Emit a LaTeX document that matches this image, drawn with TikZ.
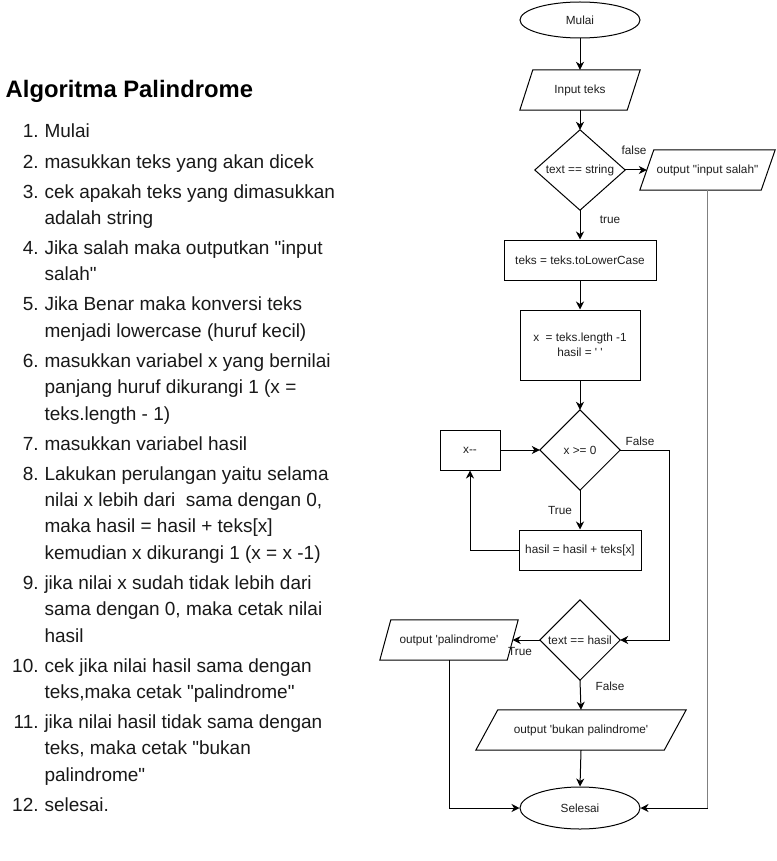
\documentclass[tikz,border=0pt]{standalone}
\usepackage{fontspec}
\setmainfont{Liberation Sans}[Ligatures=TeXOff]
\usetikzlibrary{shapes.geometric,arrows.meta}
\begin{document}
\begin{tikzpicture}[x=1pt,y=-1pt,
  fc/.style={font=\fontsize{11.8}{14.5}\selectfont, text=black!88},
  shp/.style={draw=black, line width=1pt, line join=miter},
  term/.style={ellipse, shp, minimum width=120, inner sep=0, fc},
  proc/.style={rectangle, shp, inner sep=0, fc},
  hold/.style={rectangle, inner sep=0, fc},
  lbl/.style={inner sep=0, fc},
  arr/.style={-{Stealth[length=8pt,width=8pt,inset=2.5pt]}, line width=1pt},
  grayln/.style={draw=black!50, line width=1.4pt},
  lst/.style={font=\fontsize{19}{22}\selectfont, text=black!90, inner sep=0, anchor=base west},
  num/.style={font=\fontsize{19}{22}\selectfont, text=black!90, inner sep=0, anchor=base east},
  ttl/.style={font=\fontsize{23.8}{28}\selectfont\bfseries, text=black, inner sep=0, anchor=base west}
]
\useasboundingbox (0,0) rectangle (776,861);
\fill[white] (0,0) rectangle (776,861);

% ---------- text list ----------
\node[ttl] (title) at (5.5,98) {Algoritma Palindrome};

\node[num] (n1) at (38.8,138) {1.};
\node[lst] (t1) at (44.3,138) {Mulai};
\node[num] (n2) at (38.8,168) {2.};
\node[lst] (t2) at (44.3,168) {masukkan teks yang akan dicek};
\node[num] (n3) at (38.8,198) {3.};
\node[lst] (t3a) at (44.3,198) {cek apakah teks yang dimasukkan};
\node[lst] (t3b) at (44.3,224.4) {adalah string};
\node[num] (n4) at (38.8,254.4) {4.};
\node[lst] (t4a) at (44.3,254.4) {Jika salah maka outputkan "input};
\node[lst] (t4b) at (44.3,280.8) {salah"};
\node[num] (n5) at (38.8,310.8) {5.};
\node[lst] (t5a) at (44.3,310.8) {Jika Benar maka konversi teks};
\node[lst] (t5b) at (44.3,337.2) {menjadi lowercase (huruf kecil)};
\node[num] (n6) at (38.8,367.2) {6.};
\node[lst] (t6a) at (44.3,367.2) {masukkan variabel x yang bernilai};
\node[lst] (t6b) at (44.3,393.6) {panjang huruf dikurangi 1 (x =};
\node[lst] (t6c) at (44.3,420) {teks.length - 1)};
\node[num] (n7) at (38.8,450) {7.};
\node[lst] (t7) at (44.3,450) {masukkan variabel hasil};
\node[num] (n8) at (38.8,480) {8.};
\node[lst] (t8a) at (44.3,480) {Lakukan perulangan yaitu selama};
\node[lst] (t8b) at (44.3,506.4) {nilai x lebih dari\ \ sama dengan 0,};
\node[lst] (t8c) at (44.3,532.8) {maka hasil = hasil + teks[x]};
\node[lst] (t8d) at (44.3,559.2) {kemudian x dikurangi 1 (x = x -1)};
\node[num] (n9) at (38.8,589.2) {9.};
\node[lst] (t9a) at (44.3,589.2) {jika nilai x sudah tidak lebih dari};
\node[lst] (t9b) at (44.3,615.6) {sama dengan 0, maka cetak nilai};
\node[lst] (t9c) at (44.3,642) {hasil};
\node[num] (n10) at (38.8,672) {10.};
\node[lst] (t10a) at (44.3,672) {cek jika nilai hasil sama dengan};
\node[lst] (t10b) at (44.3,698.4) {teks,maka cetak "palindrome"};
\node[num] (n11) at (38.8,728.4) {11.};
\node[lst] (t11a) at (44.3,728.4) {jika nilai hasil tidak sama dengan};
\node[lst] (t11b) at (44.3,754.8) {teks, maka cetak "bukan};
\node[lst] (t11c) at (44.3,781.2) {palindrome"};
\node[num] (n12) at (38.8,811.2) {12.};
\node[lst] (t12) at (44.3,811.2) {selesai.};

% ---------- flowchart nodes ----------
\node[term, minimum height=36] (start) at (580,20) {Mulai};

\node[hold, minimum width=120, minimum height=40] (in) at (580,90) {Input teks};
\draw[shp] ([xshift=13]in.north west) -- (in.north east) -- ([xshift=-13]in.south east) -- (in.south west) -- cycle;

\node[hold, minimum width=90, minimum height=80] (d1) at (580,170) {text == string};
\draw[shp] (d1.north) -- (d1.east) -- (d1.south) -- (d1.west) -- cycle;

\node[hold, minimum width=135, minimum height=40] (err) at (707.5,170) {output "input salah"};
\draw[shp] ([xshift=14]err.north west) -- (err.north east) -- ([xshift=-14]err.south east) -- (err.south west) -- cycle;

\node[proc, minimum width=152, minimum height=40] (low) at (580,260) {teks = teks.toLowerCase};

\node[proc, minimum width=120, minimum height=70, align=center] (init) at (580,345) {x\ \ = teks.length -1\\hasil = ' '};

\node[hold, minimum width=80, minimum height=80] (d2) at (580,450) {x >= 0};
\draw[shp] (d2.north) -- (d2.east) -- (d2.south) -- (d2.west) -- cycle;

\node[proc, minimum width=60, minimum height=40] (dec) at (470,450) {x-{}-};

\node[proc, minimum width=122, minimum height=40] (acc) at (580,550) {hasil = hasil + teks[x]};

\node[hold, minimum width=80, minimum height=80] (d3) at (580,640) {text == hasil};
\draw[shp] (d3.north) -- (d3.east) -- (d3.south) -- (d3.west) -- cycle;

\node[hold, minimum width=138, minimum height=40] (pal) at (449,640) {output 'palindrome'};
\draw[shp] ([xshift=11]pal.north west) -- (pal.north east) -- ([xshift=-11]pal.south east) -- (pal.south west) -- cycle;

\node[hold, minimum width=210, minimum height=40] (bukan) at (581,730) {output 'bukan palindrome'};
\draw[shp] ([xshift=22]bukan.north west) -- (bukan.north east) -- ([xshift=-22]bukan.south east) -- (bukan.south west) -- cycle;

\node[term, minimum height=42] (end) at (580,808) {Selesai};

% ---------- connectors ----------
\draw[arr] (start) -- (in);
\draw[arr] (in) -- (d1.north);
\draw[arr] (d1.east) -- ([xshift=7]err.west);
\draw[arr] (d1.south) -- (low.north);
\draw[arr] (low) -- (init);
\draw[arr] (init) -- (d2.north);
\draw[arr] (dec) -- (d2.west);
\draw[arr] (d2.south) -- (acc.north);
\draw[arr] (acc.west) -| (dec.south);
\coordinate (c1) at (669,450);
\draw[arr] (d2.east) -- (c1) |- (d3.east);
\draw[arr] (d3.west) -- ([xshift=-5.5]pal.east);
\draw[arr] (d3.south) -- (bukan.north);
\draw[arr] (bukan.south) -- (end.north);
\draw[arr] (pal.south) |- (end.west);
\coordinate (c2) at (err.south |- end.east);
\draw[grayln] (err.south) -- (c2);
\draw[arr] (c2) -- (end.east);

% ---------- labels ----------
\node[lbl] (lf1) at (634,150) {false};
\node[lbl] (lt1) at (610,220) {true};
\node[lbl] (lf2) at (640,441) {False};
\node[lbl] (lt2) at (560,510) {True};
\node[lbl] (lt3) at (520,651) {True};
\node[lbl] (lf3) at (610,686) {False};
\end{tikzpicture}
\end{document}
